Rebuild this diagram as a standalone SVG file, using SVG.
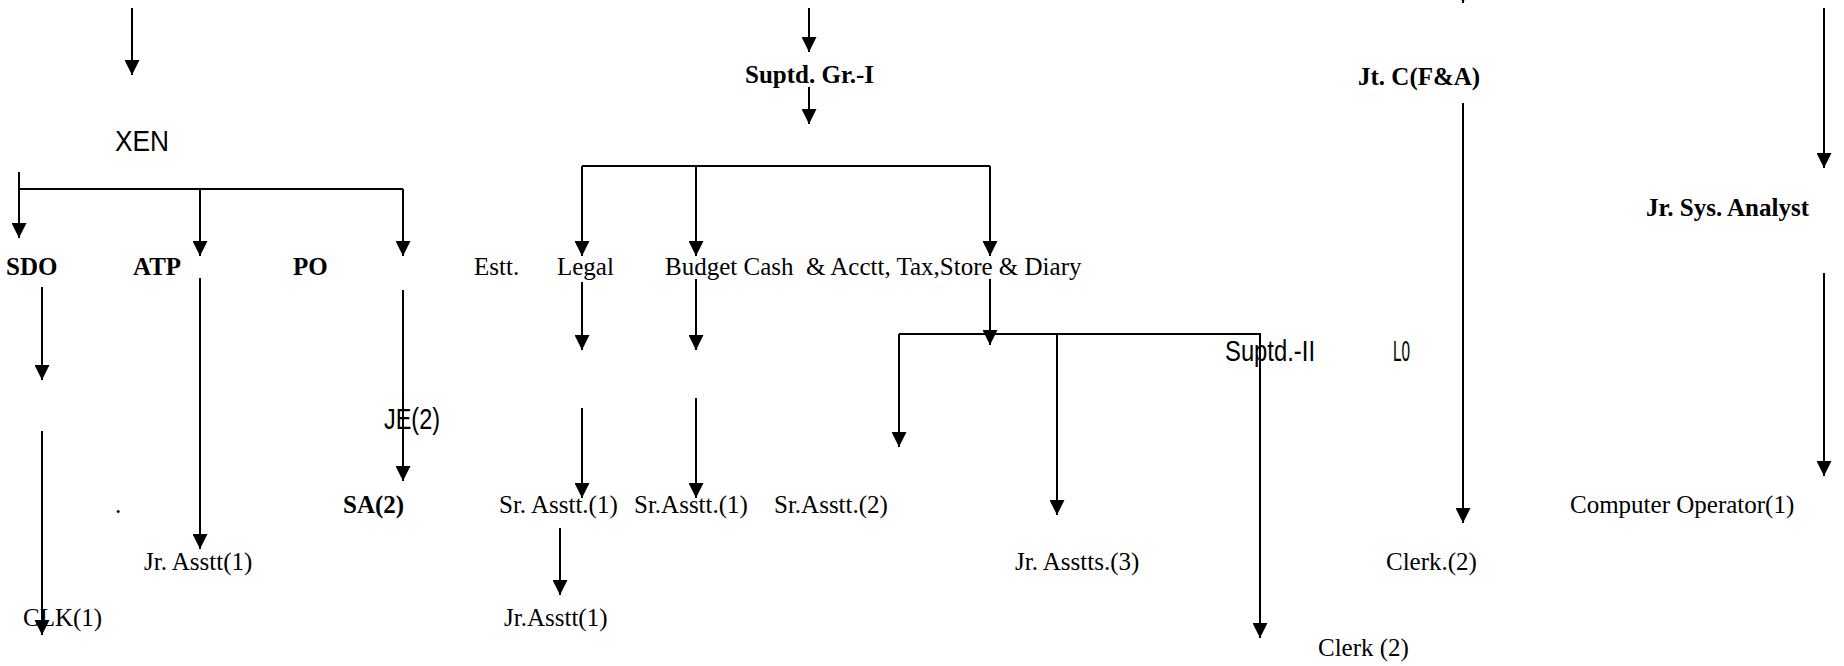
<svg xmlns="http://www.w3.org/2000/svg" width="1844" height="666" viewBox="0 0 1844 666">
<defs>
<marker id="ah" markerUnits="userSpaceOnUse" markerWidth="15" markerHeight="15" refX="15" refY="7.5" orient="auto">
<path d="M0,0 L15,7.5 L0,15 Z" fill="#000"/>
</marker>
<style>
.c line, .c path { stroke:#000; stroke-width:2; fill:none; }
.a { marker-end:url(#ah); }
.t { font-family:"Liberation Serif","Times New Roman",serif; font-size:25px; fill:#000; white-space:pre; }
.b { font-weight:bold; }
.s { font-family:"Liberation Sans",Arial,sans-serif; font-size:29px; fill:#000; }
</style>
</defs>
<rect width="1844" height="666" fill="#fff"/>
<g id="connectors" class="c">
<line class="a" x1="132" y1="8" x2="132" y2="75"/>
<line class="a" x1="19" y1="172" x2="19" y2="238"/>
<line x1="19" y1="189" x2="403" y2="189"/>
<line class="a" x1="200" y1="189" x2="200" y2="256"/>
<line class="a" x1="403" y1="189" x2="403" y2="256"/>
<line class="a" x1="42" y1="287" x2="42" y2="380"/>
<line class="a" x1="42" y1="431" x2="42" y2="635"/>
<line class="a" x1="200" y1="278" x2="200" y2="549"/>
<line class="a" x1="403" y1="290" x2="403" y2="481"/>
<line class="a" x1="809" y1="8" x2="809" y2="52"/>
<line class="a" x1="809" y1="87" x2="809" y2="124"/>
<line x1="582" y1="166" x2="990" y2="166"/>
<line class="a" x1="582" y1="166" x2="582" y2="256"/>
<line class="a" x1="696" y1="166" x2="696" y2="256"/>
<line class="a" x1="990" y1="166" x2="990" y2="256"/>
<line class="a" x1="582" y1="282" x2="582" y2="350"/>
<line class="a" x1="696" y1="279" x2="696" y2="350"/>
<line class="a" x1="990" y1="279" x2="990" y2="345"/>
<line class="a" x1="582" y1="408" x2="582" y2="498"/>
<line class="a" x1="696" y1="398" x2="696" y2="498"/>
<line class="a" x1="560" y1="528" x2="560" y2="595"/>
<path class="a" d="M899,334 H1260 V638"/>
<line class="a" x1="899" y1="334" x2="899" y2="447"/>
<line class="a" x1="1057" y1="334" x2="1057" y2="515"/>
<line class="a" x1="1463" y1="-20" x2="1463" y2="3"/>
<line class="a" x1="1463" y1="103" x2="1463" y2="523"/>
<line class="a" x1="1824" y1="8" x2="1824" y2="168"/>
<line class="a" x1="1824" y1="273" x2="1824" y2="476"/>
</g>
<g id="n-xen"><text class="s" x="115" y="151" textLength="54" lengthAdjust="spacingAndGlyphs">XEN</text></g>
<g id="n-sdo"><text class="t b" x="6" y="275">SDO</text></g>
<g id="n-atp"><text class="t b" x="133" y="275">ATP</text></g>
<g id="n-po"><text class="t b" x="293" y="275">PO</text></g>
<g id="n-estt"><text class="t" x="474" y="275">Estt.</text></g>
<g id="n-legal"><text class="t" x="557" y="275">Legal</text></g>
<g id="n-budget"><text class="t" x="665" y="275">Budget Cash  &amp; Acctt, Tax,Store &amp; Diary</text></g>
<g id="n-suptd1"><text class="t b" x="745" y="83">Suptd. Gr.-I</text></g>
<g id="n-jtc"><text class="t b" x="1358" y="85">Jt. C(F&amp;A)</text></g>
<g id="n-jrsys"><text class="t b" x="1646" y="216">Jr. Sys. Analyst</text></g>
<g id="n-je"><text class="s" x="384" y="429" font-size="28" textLength="56" lengthAdjust="spacingAndGlyphs">JE(2)</text></g>
<g id="n-suptd2"><text class="s" x="1225" y="361" textLength="90" lengthAdjust="spacingAndGlyphs">Suptd.-II</text></g>
<g id="n-lo"><text class="s" x="1393" y="361" textLength="17" lengthAdjust="spacingAndGlyphs">L0</text></g>
<g id="n-dot"><text class="t" x="115" y="513">.</text></g>
<g id="n-sa"><text class="t b" x="343" y="513">SA(2)</text></g>
<g id="n-srasst1a"><text class="t" x="499" y="513">Sr. Asstt.(1)</text></g>
<g id="n-srasst1b"><text class="t" x="634" y="513">Sr.Asstt.(1)</text></g>
<g id="n-srasst2"><text class="t" x="774" y="513">Sr.Asstt.(2)</text></g>
<g id="n-compop"><text class="t" x="1570" y="513">Computer Operator(1)</text></g>
<g id="n-jrasst1a"><text class="t" x="144" y="570">Jr. Asstt(1)</text></g>
<g id="n-jrasst3"><text class="t" x="1015" y="570">Jr. Asstts.(3)</text></g>
<g id="n-clerk2a"><text class="t" x="1386" y="570">Clerk.(2)</text></g>
<g id="n-clk"><text class="t" x="23" y="626">CLK(1)</text></g>
<g id="n-jrasst1b"><text class="t" x="504" y="626">Jr.Asstt(1)</text></g>
<g id="n-clerk2b"><text class="t" x="1318" y="656">Clerk (2)</text></g>
</svg>
